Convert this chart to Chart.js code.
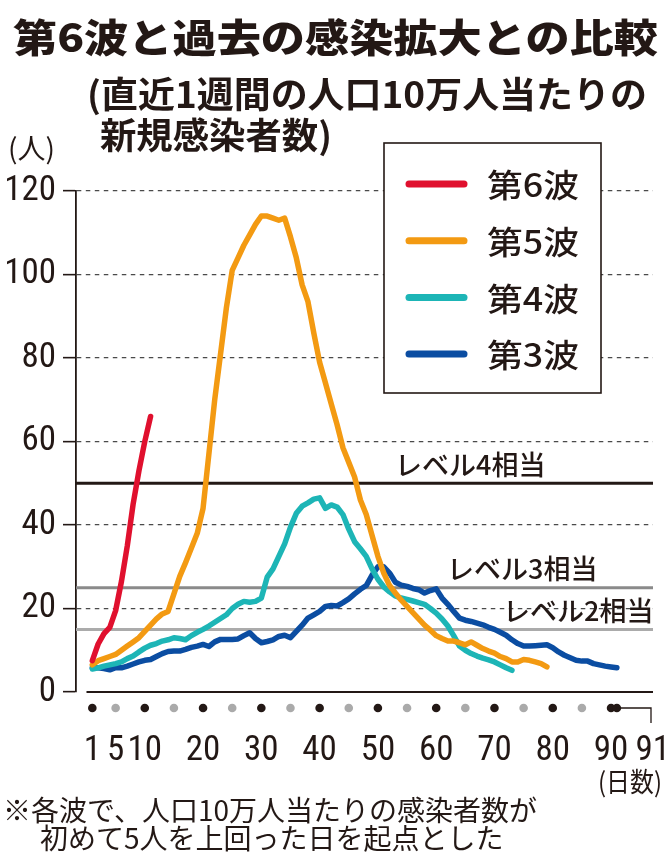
<!DOCTYPE html>
<html>
<head>
<meta charset="utf-8">
<script src="https://cdn.jsdelivr.net/npm/chart.js@4.4.1/dist/chart.umd.min.js"></script>
<style>
  body { margin:0; width:671px; height:860px; position:relative; background:#fff; overflow:hidden; color:#231815; font-family:"Noto Sans CJK JP", sans-serif; }
  .t { position:absolute; white-space:nowrap; line-height:1; transform-origin:left top; z-index:2; }
  #title { left:13px; top:16px; font-size:39px; font-weight:900; }
  #sub1 { left:87px; top:74px; font-size:36px; font-weight:700; }
  #sub2 { left:100px; top:115px; font-size:36px; font-weight:700; }
  #unit { left:8px; top:133px; font-size:28px; }
  #days { left:598px; top:767px; font-size:27px; }
  #note1 { left:3px; top:795px; font-size:28px; }
  #note2 { left:40px; top:823px; font-size:28px; }
  canvas { position:absolute; left:0; top:0; }
</style>
</head>
<body>
<div class="t" id="title" data-w="645">第6波と過去の感染拡大との比較</div>
<div class="t" id="sub1" data-w="560">(直近1週間の人口10万人当たりの</div>
<div class="t" id="sub2" data-w="232">新規感染者数)</div>
<div class="t" id="unit">(人)</div>
<div class="t" id="days" data-w="64">(日数)</div>
<div class="t" id="note1">※各波で、人口10万人当たりの感染者数が</div>
<div class="t" id="note2">初めて5人を上回った日を起点とした</div>
<canvas id="c" width="671" height="860"></canvas>
<script>
// 各波の値（1日目から）
var waveNames = ["第6波", "第5波", "第4波", "第3波"];
var waveColors = ["#E0102E", "#F39A12", "#1DB5B6", "#0B4DA2"];

var wave6 = [7.5, 11.5, 14, 15.5, 19.5, 26.5, 35, 45, 53, 60, 66];

var wave5 = [6.5, 7.5, 8, 8.5, 9, 10, 11, 12, 13, 14.5,
  16, 17.5, 18.7, 19.3, 23.5, 27.7, 31, 34.5, 38, 44,
  57, 70, 81, 92, 101, 104, 107, 109.5, 112, 114,
  114, 113.5, 113, 113.5, 109, 104, 97.5, 93.5, 86, 79,
  74, 69, 64, 58.5, 55, 51.5, 46, 42.5, 37.5, 32.5,
  28.5, 25.5, 23.7, 22, 20.5, 19, 17.5, 16, 14.8, 13.5,
  12.8, 12.2, 12.2, 11.8, 11.3, 12, 11.2, 10.4, 9.8, 9.3,
  8.5, 8, 7.2, 7.2, 7.8, 7.6, 7.2, 6.8, 6];

var wave4 = [5.5, 5.8, 6.2, 6.5, 6.8, 7.2, 8, 8.6, 9.6, 10.5,
  11.2, 11.6, 12.2, 12.5, 13, 12.8, 12.5, 13.5, 14.3, 15,
  15.8, 16.7, 17.6, 18.5, 20, 21, 21.7, 21.5, 21.7, 22.5,
  27.5, 29.5, 32.5, 35.5, 39.5, 42.8, 44.5, 45.3, 46.2, 46.5,
  44, 44.8, 44.3, 42.5, 39, 36, 34.3, 32.5, 29.5, 27,
  25.2, 24, 23, 22.5, 22.2, 21.8, 21.4, 21, 20, 18.9,
  17.5, 15.8, 13.5, 11, 10, 9.2, 8.6, 8.1, 7.7, 7.2,
  6.5, 5.8, 5.2];

var wave3 = [5.8, 5.8, 5.6, 5.3, 5.8, 5.8, 6.2, 6.7, 7.2, 7.6,
  7.8, 8.5, 9.2, 9.7, 9.8, 9.8, 10.2, 10.7, 11, 11.4,
  10.9, 12, 12.6, 12.6, 12.6, 12.7, 13.5, 14.2, 12.8, 11.8,
  12.1, 12.5, 13.3, 13.6, 13, 14.5, 16, 17.7, 18.5, 19.3,
  20.5, 20.7, 20.6, 21.4, 22.3, 23.5, 24.6, 25.5, 28, 30,
  30, 28.5, 26.3, 25.6, 25.3, 24.8, 24.5, 23.7, 24.3, 24.7,
  22.5, 21, 19.3, 17.7, 17.2, 16.9, 16.5, 16.1, 15.5, 15,
  14.3, 13.6, 12.5, 11.6, 11, 11, 11.1, 11.2, 11.3, 10.6,
  9.6, 8.8, 8.2, 7.6, 7.4, 7.4, 6.8, 6.5, 6.2, 6, 5.8];

var xTicks = [1, 5, 10, 20, 30, 40, 50, 60, 70, 80, 90];
var lastDay = [91];
var xDots = [1, 5, 10, 15, 20, 25, 30, 35, 40, 45, 50, 55, 60, 65, 70, 75, 80, 85, 90, 91];
var yTicks = [0, 20, 40, 60, 80, 100, 120];

var levels = [50, 25, 15];
var levelNames = ["レベル4相当", "レベル3相当", "レベル2相当"];
var levelColors = ["#231815", "#8a8a8a", "#ababab"];

var ink = "#231815";
var numFont = "'Liberation Sans Narrow','Roboto Condensed','DejaVu Sans Condensed','Liberation Sans',sans-serif";
var jpFont = "'Noto Sans CJK JP',sans-serif";

// 見出しの横幅を元の図に合わせる（平体）
document.querySelectorAll(".t[data-w]").forEach(function(el){
  var w = el.getBoundingClientRect().width;
  el.style.transform = "scaleX(" + (Number(el.dataset.w) / w) + ")";
});

function toPoints(arr){
  return arr.map(function(v, i){ return {x: i + 1, y: v}; });
}

var extras = {
  id: "extras",
  beforeDatasetsDraw: function(chart){
    var ctx = chart.ctx, a = chart.chartArea, x = chart.scales.x, y = chart.scales.y;
    ctx.save();
    // 横軸
    var y0 = y.getPixelForValue(0);
    ctx.strokeStyle = ink;
    ctx.lineWidth = 2;
    ctx.beginPath();
    ctx.moveTo(x.getPixelForValue(0), y0);
    ctx.lineTo(a.right, y0);
    ctx.stroke();
    // レベル線
    var labelLeft = [395, 447, 503];
    levels.forEach(function(lv, i){
      var py = y.getPixelForValue(lv);
      ctx.strokeStyle = levelColors[i];
      ctx.lineWidth = 3;
      ctx.beginPath();
      ctx.moveTo(a.left, py);
      ctx.lineTo(a.right, py);
      ctx.stroke();
      ctx.fillStyle = ink;
      ctx.font = "500 27px " + jpFont;
      ctx.textBaseline = "middle";
      ctx.textAlign = "left";
      ctx.fillText(levelNames[i], labelLeft[i], py - 19);
    });
    ctx.restore();
  },
  afterDraw: function(chart){
    var ctx = chart.ctx, a = chart.chartArea, x = chart.scales.x, y = chart.scales.y;
    ctx.save();
    // 凡例
    var bx = 384, by = 143, bw = 217, bh = 250;
    ctx.fillStyle = "#fff";
    ctx.fillRect(bx, by, bw, bh);
    ctx.strokeStyle = ink;
    ctx.lineWidth = 1.6;
    ctx.strokeRect(bx, by, bw, bh);
    var items = chart.data.datasets.slice().sort(function(p, q){ return p.legendRank - q.legendRank; });
    items.forEach(function(ds, i){
      var ry = 184 + i * 56.7;
      ctx.strokeStyle = ds.borderColor;
      ctx.lineWidth = 7;
      ctx.lineCap = "round";
      ctx.beginPath();
      ctx.moveTo(409, ry);
      ctx.lineTo(464, ry);
      ctx.stroke();
      ctx.save();
      ctx.translate(487, ry);
      ctx.scale(1.12, 1);
      ctx.fillStyle = ink;
      ctx.font = "500 32px " + jpFont;
      ctx.textBaseline = "middle";
      ctx.fillText(ds.label, 0, 1);
      ctx.restore();
    });
    // 目盛りの点
    var dy = y.getPixelForValue(0) + 16;
    xDots.forEach(function(d){
      var px = x.getPixelForValue(d);
      ctx.fillStyle = (d === 1 || d % 10 === 0 || d === 91) ? ink : "#aaaaaa";
      ctx.beginPath();
      ctx.arc(px, dy, 4.3, 0, Math.PI * 2);
      ctx.fill();
    });
    // 91日目の引き出し線
    var p91 = x.getPixelForValue(91);
    ctx.strokeStyle = ink;
    ctx.lineWidth = 1.3;
    ctx.lineCap = "butt";
    ctx.beginPath();
    ctx.moveTo(p91, dy);
    ctx.lineTo(a.right - 2, dy);
    ctx.lineTo(a.right - 2, dy + 15);
    ctx.stroke();
    ctx.restore();
  }
};

// 第3波を一番下に描き、第6波を一番上に
var sets = [wave6, wave5, wave4, wave3].map(function(arr, i){
  return {
    label: waveNames[i],
    legendRank: i,
    order: i,
    data: toPoints(arr),
    borderColor: waveColors[i],
    backgroundColor: waveColors[i],
    borderWidth: 5.5,
    pointRadius: 0,
    tension: 0,
    borderCapStyle: "round",
    borderJoinStyle: "round",
    fill: false
  };
});

var tickFont = { family: numFont, size: 35, lineHeight: 1 };

new Chart(document.getElementById("c"), {
  type: "line",
  data: { datasets: sets },
  options: {
    responsive: false,
    animation: false,
    events: [],
    layout: { padding: { left: 0, top: 191, right: 18, bottom: 98 } },
    plugins: { legend: { display: false }, tooltip: { enabled: false } },
    scales: {
      x: {
        type: "linear",
        bounds: "data",
        min: -1.8,
        max: 97.2,
        afterBuildTicks: function(s){ s.ticks = xTicks.map(function(v){ return {value: v}; }); },
        afterFit: function(s){ s.height = 70; },
        grid: { display: false },
        border: { display: false },
        ticks: { autoSkip: false, maxRotation: 0, padding: 34, color: ink, font: tickFont }
      },
      x2: {
        type: "linear",
        bounds: "data",
        position: { y: 0 },
        min: -1.8,
        max: 97.2,
        afterBuildTicks: function(s){ s.ticks = lastDay.map(function(v){ return {value: v}; }); },
        grid: { display: false },
        border: { display: false },
        ticks: { autoSkip: false, maxRotation: 0, padding: 34, labelOffset: 36, color: ink, font: tickFont }
      },
      y: {
        bounds: "data",
        min: 0,
        max: 120,
        afterBuildTicks: function(s){ s.ticks = yTicks.map(function(v){ return {value: v}; }); },
        afterFit: function(s){ s.width = 76; },
        grid: {
          color: function(c){ return c.tick && c.tick.value === 0 ? "rgba(0,0,0,0)" : "#4a4a4a"; },
          lineWidth: 1.3,
          drawTicks: true,
          tickLength: 13,
          tickColor: ink,
          tickWidth: 1.6
        },
        border: { display: true, color: ink, width: 1.8, dash: [4.5, 4.5] },
        ticks: { padding: 7, color: ink, font: tickFont }
      }
    }
  },
  plugins: [extras]
});
</script>
</body>
</html>
